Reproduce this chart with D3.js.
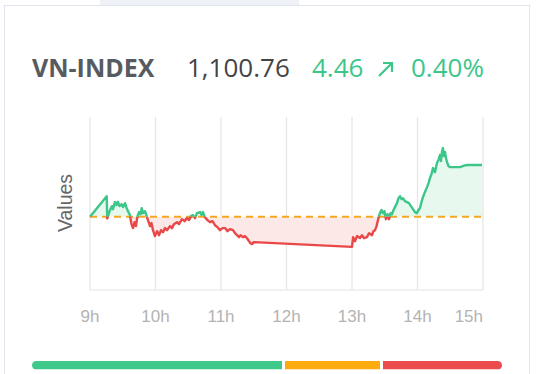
<!DOCTYPE html>
<html>
<head>
<meta charset="utf-8">
<script src="https://cdn.jsdelivr.net/npm/d3@7"></script>
<style>
  body { margin: 0; background: #fff; }
  svg { display: block; }
</style>
</head>
<body>
<svg id="board" width="537" height="374"></svg>
<script>
// header figures
var indexName = "VN-INDEX";
var lastValue = "1,100.76";
var change = "4.46";
var changePct = "0.40%";
var refValue = 1096.30;

// intraday series: minutes after 9:00, index value
var minutes = [0, 15.3, 15.8, 18.3, 20.2, 21.1, 22.9, 24.3, 25.6, 27.0, 29.0, 30.2, 32.1, 33.6, 34.8,
  36.6, 38.0, 39.4, 40.8, 42.1, 43.5, 44.9, 46.3, 47.4, 48.5, 50.4, 51.9, 53.1, 55.0, 56.3,
  57.7, 59.5, 61.4, 63.2, 65.0, 66.9, 68.7, 70.5, 73.3, 75.1, 76.9, 79.7, 81.5, 84.3, 86.6,
  88.9, 90.7, 92.5, 94.3, 96.2, 98.0, 100.8, 102.1, 103.5, 105.3, 107.6, 109.9, 112.2, 114.5,
  116.8, 119.1, 121.4, 123.7, 126.0, 128.2, 131.0, 132.8, 134.7, 136.5, 137.9, 140.1, 142.0,
  143.8, 145.6, 147.0, 148.4, 150.0,
  240.0, 241.0, 242.7, 244.6, 247.3, 249.2, 251.0, 253.7, 255.6, 258.3, 259.7, 261.1, 262.5,
  263.8, 264.7, 265.6, 267.0, 268.4, 269.7, 271.1, 272.5, 273.9, 275.3, 276.6, 278.0, 279.4,
  281.2, 282.6, 284.0, 285.4, 286.7, 288.5, 290.4, 292.2, 294.0, 295.9, 297.7, 299.5, 300.9,
  302.3, 303.6, 305.0, 306.8, 308.7, 310.1, 311.4, 312.8, 314.2, 316.0, 317.8, 319.2, 320.6,
  321.5, 322.4, 323.3, 324.2, 325.2, 326.1, 327.0, 328.4, 329.8, 334.3, 338.9, 342.6, 345.3,
  352.7, 359.1];
var values = [1096.30, 1098.08, 1096.16, 1096.88, 1097.22, 1096.96, 1097.59, 1097.31, 1097.59,
  1097.22, 1097.39, 1097.14, 1097.48, 1097.05, 1096.79, 1096.45, 1095.67, 1095.33, 1095.84,
  1095.50, 1096.36, 1096.71, 1096.53, 1097.05, 1096.62, 1096.79, 1096.36, 1096.02, 1095.50,
  1095.76, 1095.15, 1094.64, 1095.07, 1094.72, 1095.15, 1094.98, 1095.33, 1095.15, 1095.50,
  1095.33, 1095.67, 1095.84, 1095.67, 1096.10, 1095.93, 1096.19, 1096.02, 1096.36, 1096.45,
  1096.19, 1096.62, 1096.71, 1096.45, 1096.71, 1096.27, 1096.02, 1095.84, 1095.93, 1095.58,
  1095.41, 1095.15, 1095.33, 1095.33, 1095.07, 1095.24, 1095.15, 1094.89, 1094.72, 1094.55,
  1094.72, 1094.55, 1094.64, 1094.46, 1094.21, 1094.03, 1093.95, 1094.12,
  1093.71, 1094.55, 1094.20, 1094.64, 1094.48, 1094.72, 1094.46, 1094.55, 1094.89, 1094.72,
  1095.07, 1095.15, 1095.50, 1096.02, 1096.36, 1096.62, 1096.88, 1096.62, 1096.79, 1096.10,
  1096.53, 1096.10, 1096.62, 1096.53, 1096.88, 1097.14, 1097.48, 1097.91, 1098.08, 1097.82,
  1097.91, 1097.65, 1097.57, 1097.48, 1097.22, 1096.96, 1096.71, 1096.62, 1096.88, 1097.05,
  1097.57, 1098.00, 1098.43, 1098.86, 1099.21, 1099.64, 1099.98, 1100.50, 1100.15, 1100.93,
  1101.20, 1101.62, 1101.10, 1101.88, 1102.22, 1101.53, 1101.88, 1101.36, 1101.02, 1100.67,
  1100.58, 1100.58, 1100.58, 1100.71, 1100.76, 1100.76, 1100.76];

var hourTicks = [0, 60, 120, 180, 240, 300, 360];
var hourLabels = ["9h", "10h", "11h", "12h", "13h", "14h", "15h"];

// market breadth: advancing, unchanged, declining
var breadth = [250, 95, 119];
var breadthColors = ["#3ec98a", "#fdab0f", "#eb4b4d"];

var green = "#3cc68a";
var red = "#e84848";

var svg = d3.select("#board");

// card frame
svg.append("rect").attr("x", 100).attr("y", 0).attr("width", 199).attr("height", 5).attr("fill", "#eef1f6");
svg.append("rect").attr("x", 4.5).attr("y", 5.5).attr("width", 525).attr("height", 380)
  .attr("fill", "none").attr("stroke", "#dfe5ec");

// header
svg.append("text").attr("x", 32).attr("y", 77).text(indexName)
  .attr("font-family", "Open Sans").attr("font-weight", 700).attr("font-size", 25).attr("fill", "#575b61");
svg.append("text").attr("x", 187).attr("y", 77).text(lastValue)
  .attr("font-family", "Open Sans").attr("font-size", 26).attr("fill", "#444");
svg.append("text").attr("x", 312).attr("y", 77).text(change)
  .attr("font-family", "Open Sans").attr("font-size", 26).attr("fill", green);
svg.append("path").attr("d", "M379,76 L392,63 M383,63 L392,63 L392,72")
  .attr("stroke", green).attr("stroke-width", 2.2).attr("fill", "none");
svg.append("text").attr("x", 411).attr("y", 77).text(changePct)
  .attr("font-family", "Open Sans").attr("font-size", 26).attr("fill", green);

// scales
var x = d3.scaleLinear().domain([0, 360]).range([90, 483]);
var y = d3.scaleLinear().domain([1090, 1105.07]).range([290, 115]);
var yRef = y(refValue);

// grid
svg.append("g").selectAll("line").data(hourTicks).join("line")
  .attr("x1", d => x(d)).attr("x2", d => x(d))
  .attr("y1", 117).attr("y2", 290)
  .attr("stroke", "#e6e6e6").attr("stroke-width", 1.3);
svg.append("line").attr("x1", x(0)).attr("x2", x(360)).attr("y1", 290).attr("y2", 290)
  .attr("stroke", "#e3e3e3").attr("stroke-width", 1.2);

svg.append("g").selectAll("text").data(hourTicks).join("text")
  .attr("x", d => x(d)).attr("y", 322)
  .attr("text-anchor", (d, i) => i == hourTicks.length - 1 ? "end" : "middle")
  .attr("font-family", "Liberation Sans, Arial").attr("font-size", 17).attr("fill", "#b3b3b3")
  .text((d, i) => hourLabels[i]);

svg.append("text")
  .attr("transform", "translate(72,203) rotate(-90)")
  .attr("text-anchor", "middle")
  .attr("font-family", "Liberation Sans, Arial").attr("font-size", 19.5).attr("fill", "#666")
  .text("Values");

// clips above / below reference
var defs = svg.append("defs");
defs.append("clipPath").attr("id", "above").append("rect")
  .attr("x", 0).attr("y", 0).attr("width", 537).attr("height", yRef);
defs.append("clipPath").attr("id", "below").append("rect")
  .attr("x", 0).attr("y", yRef).attr("width", 537).attr("height", 374 - yRef);

var pts = minutes.map((m, i) => [m, values[i]]);
var area = d3.area().x(d => x(d[0])).y0(yRef).y1(d => y(d[1]));
var line = d3.line().x(d => x(d[0])).y(d => y(d[1]));

svg.append("path").datum(pts).attr("d", area).attr("fill", "#e7f8ef").attr("clip-path", "url(#above)");
svg.append("path").datum(pts).attr("d", area).attr("fill", "#fde8e8").attr("clip-path", "url(#below)");

svg.append("line").attr("x1", x(0)).attr("x2", x(360)).attr("y1", yRef).attr("y2", yRef)
  .attr("stroke", "#f5a623").attr("stroke-width", 2).attr("stroke-dasharray", "7,5");

svg.append("path").datum(pts).attr("d", line).attr("fill", "none")
  .attr("stroke", green).attr("stroke-width", 2.4).attr("stroke-linejoin", "round")
  .attr("clip-path", "url(#above)");
svg.append("path").datum(pts).attr("d", line).attr("fill", "none")
  .attr("stroke", red).attr("stroke-width", 2.4).attr("stroke-linejoin", "round")
  .attr("clip-path", "url(#below)");

// breadth bar
var gap = 3;
var barLeft = 32, barRight = 502;
var total = d3.sum(breadth);
var bw = d3.scaleLinear().domain([0, total]).range([0, barRight - barLeft - gap * (breadth.length - 1)]);
defs.append("clipPath").attr("id", "barClip").append("rect")
  .attr("x", barLeft).attr("y", 361).attr("width", barRight - barLeft).attr("height", 8.5).attr("rx", 4.25);
var acc = 0;
var segs = breadth.map((v, i) => {
  var s = { x: barLeft + bw(acc) + gap * i, w: bw(v), c: breadthColors[i] };
  acc += v;
  return s;
});
svg.append("g").attr("clip-path", "url(#barClip)").selectAll("rect").data(segs).join("rect")
  .attr("x", d => d.x).attr("y", 361).attr("width", d => d.w).attr("height", 8.5)
  .attr("fill", d => d.c);
</script>
</body>
</html>
